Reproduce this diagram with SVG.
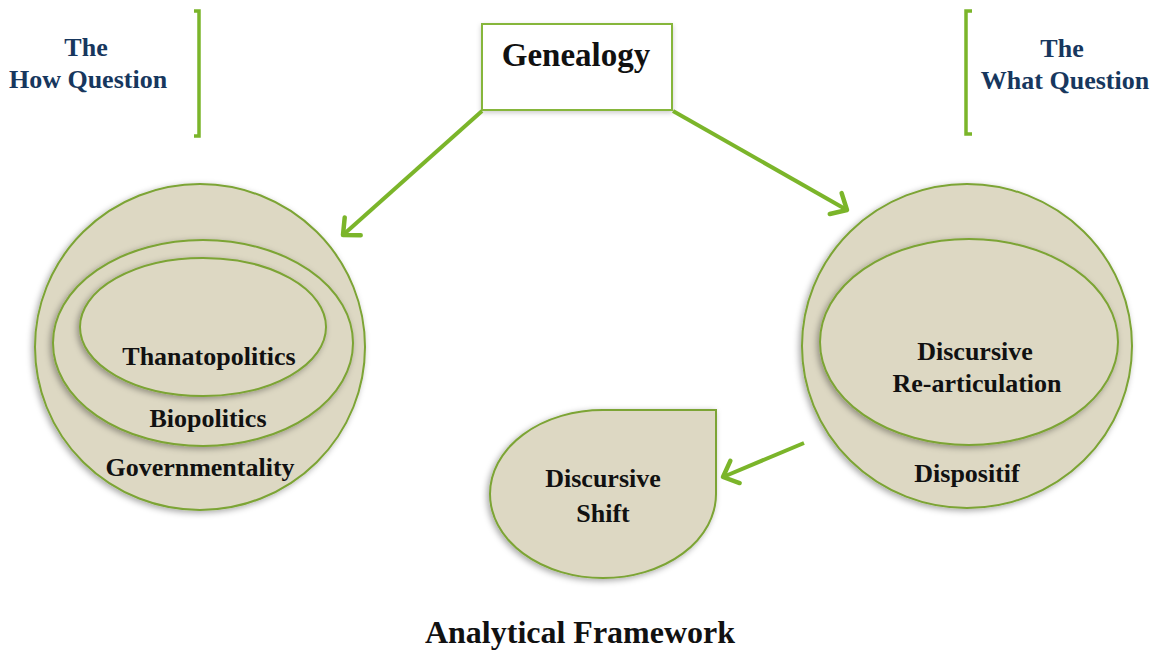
<svg xmlns="http://www.w3.org/2000/svg" width="1157" height="652" viewBox="0 0 1157 652">
<defs>
<filter id="sh" x="-20%" y="-20%" width="140%" height="140%">
<feDropShadow dx="-2" dy="2" stdDeviation="3" flood-color="#000" flood-opacity="0.35"/>
</filter>
<filter id="bsh" x="-10%" y="-10%" width="120%" height="130%">
<feDropShadow dx="0" dy="2" stdDeviation="2.5" flood-color="#000" flood-opacity="0.2"/>
</filter>
<marker id="ah" markerUnits="userSpaceOnUse" markerWidth="26" markerHeight="30" refX="0" refY="0" orient="auto" viewBox="-18 -15 22 30">
<path d="M -13 -12 L 0 0 L -13 12" fill="none" stroke="#7BB52A" stroke-width="4.5" stroke-linecap="round" stroke-linejoin="round"/>
</marker>
</defs>
<style>
.sh{fill:#DDD8C3;stroke:#7CA434;stroke-width:2}
.lbl{font-family:"Liberation Serif","Times New Roman",serif;font-weight:bold;font-size:26px;fill:#111;text-anchor:middle}
.q{font-family:"Liberation Serif","Times New Roman",serif;font-weight:bold;font-size:26px;fill:#17375E;text-anchor:middle}
.br{fill:none;stroke:#7BB52A;stroke-width:3.5}
.ar{fill:none;stroke:#7BB52A;stroke-width:4;marker-end:url(#ah)}
</style>
<rect width="1157" height="652" fill="#fff"/>
<g id="how-question">
<path class="br" d="M194 11 H199 V136 H194"/>
<text class="q" x="86" y="56">The</text>
<text class="q" x="88" y="88">How Question</text>
</g>
<g id="what-question">
<path class="br" d="M972 11 H966 V134 H972"/>
<text class="q" x="1062" y="57">The</text>
<text class="q" x="1065" y="89">What Question</text>
</g>
<g id="genealogy">
<rect x="482" y="24" width="190" height="86" fill="#fff" stroke="#86B63A" stroke-width="2" filter="url(#bsh)"/>
<text class="lbl" x="576" y="66" style="font-size:33px">Genealogy</text>
</g>
<g id="governmentality">
<ellipse class="sh" cx="200" cy="347" rx="165" ry="163" filter="url(#sh)"/>
<text class="lbl" x="200" y="476">Governmentality</text>
</g>
<g id="biopolitics">
<ellipse class="sh" cx="203" cy="343" rx="150" ry="103" filter="url(#sh)"/>
<text class="lbl" x="208" y="427">Biopolitics</text>
</g>
<g id="thanatopolitics">
<ellipse class="sh" cx="203" cy="327" rx="123" ry="69" filter="url(#sh)"/>
<text class="lbl" x="209" y="365">Thanatopolitics</text>
</g>
<g id="dispositif">
<ellipse class="sh" cx="967" cy="346" rx="165" ry="162" filter="url(#sh)"/>
<text class="lbl" x="967" y="482">Dispositif</text>
</g>
<g id="discursive-rearticulation">
<ellipse class="sh" cx="969" cy="342" rx="149" ry="103" filter="url(#sh)"/>
<text class="lbl" x="975" y="360">Discursive</text>
<text class="lbl" x="977" y="392">Re-articulation</text>
</g>
<g id="discursive-shift">
<path class="sh" d="M603 410 H716 V494 A113 84 0 0 1 603 578 A113 84 0 0 1 490 494 A113 84 0 0 1 603 410 Z" filter="url(#sh)"/>
<text class="lbl" x="603" y="487">Discursive</text>
<text class="lbl" x="603" y="522">Shift</text>
</g>
<g id="connectors">
<line class="ar" x1="482" y1="111" x2="343" y2="235"/>
<line class="ar" x1="673" y1="111" x2="847" y2="210"/>
<line class="ar" x1="804" y1="443" x2="723" y2="477"/>
</g>
<text class="lbl" x="580" y="643" style="font-size:32px">Analytical Framework</text>
</svg>
